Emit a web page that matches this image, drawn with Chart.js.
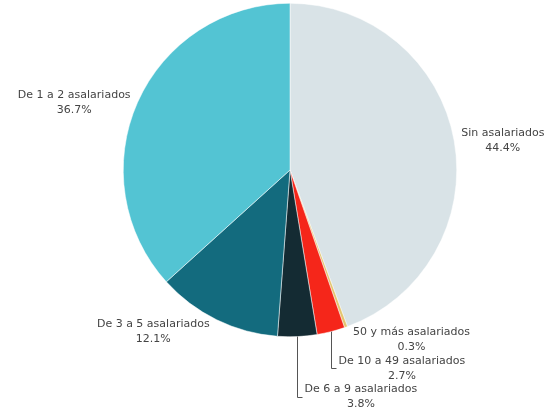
<!DOCTYPE html>
<html>
<head>
<meta charset="utf-8">
<script src="https://cdn.jsdelivr.net/npm/chart.js@4"></script>
<style>
  html, body { margin: 0; padding: 0; background: #fff; }
  #wrap { width: 552px; height: 418px; }
</style>
</head>
<body>
<div id="wrap"><canvas id="pieChart" width="552" height="418"></canvas></div>
<script>
// ==========================
// データ
// ==========================
const categories = [
  "Sin asalariados",
  "50 y más asalariados",
  "De 10 a 49 asalariados",
  "De 6 a 9 asalariados",
  "De 3 a 5 asalariados",
  "De 1 a 2 asalariados"
];
const shares = [44.4, 0.3, 2.7, 3.8, 12.1, 36.7];
const shareLabels = ["44.4%", "0.3%", "2.7%", "3.8%", "12.1%", "36.7%"];
const sliceColors = ["#d9e3e7", "#e3c56f", "#f5261a", "#142b33", "#136b7e", "#53c4d3"];
// ラベルの置き方（leader = 引き出し線つき）
const labelModes = ["side", "side", "leader", "leader", "side", "side"];

// ==========================
// 外側ラベル
// ==========================
const outsideLabels = {
  id: "outsideLabels",
  afterDraw(chart) {
    const ctx = chart.ctx;
    const arcs = chart.getDatasetMeta(0).data;
    const lineH = 15;
    ctx.save();
    ctx.font = "11px 'DejaVu Sans', Verdana, sans-serif";
    ctx.fillStyle = "#444";
    ctx.strokeStyle = "#555";
    ctx.lineWidth = 1;
    ctx.textBaseline = "middle";
    ctx.textAlign = "center";
    let prevCy = null;
    arcs.forEach((arc, i) => {
      const { x, y, startAngle, endAngle, outerRadius } = arc.getProps(["x", "y", "startAngle", "endAngle", "outerRadius"], true);
      const mid = (startAngle + endAngle) / 2;
      const ax = x + Math.cos(mid) * outerRadius;
      const ay = y + Math.sin(mid) * outerRadius;
      const lines = [categories[i], shareLabels[i]];
      const w = Math.max(...lines.map(t => ctx.measureText(t).width));
      let cx, cy;
      if (labelModes[i] === "leader") {
        cy = prevCy + 28.5;
        const ex = Math.round(ax) + 0.5;
        ctx.beginPath();
        ctx.moveTo(ex, ay);
        ctx.lineTo(ex, Math.round(cy) + 0.5);
        ctx.lineTo(ex + 5, Math.round(cy) + 0.5);
        ctx.stroke();
        cx = ex + 7 + w / 2;
      } else {
        const side = Math.cos(mid) >= 0 ? 1 : -1;
        cx = ax + side * (w / 2 + 7);
        cy = ay + Math.max(0, Math.sin(mid)) * 13.5;
      }
      prevCy = cy;
      ctx.fillText(lines[0], cx, cy - lineH / 2);
      ctx.fillText(lines[1], cx, cy + lineH / 2);
    });
    ctx.restore();
  }
};

// ==========================
// グラフ表示
// ==========================
document.addEventListener("DOMContentLoaded", () => {
  const ctx = document.getElementById("pieChart").getContext("2d");
  new Chart(ctx, {
    type: "pie",
    data: {
      labels: categories,
      datasets: [{
        data: shares,
        backgroundColor: sliceColors,
        borderColor: "#ffffff",
        borderWidth: 0.5
      }]
    },
    options: {
      responsive: false,
      animation: false,
      layout: { padding: { top: 3, bottom: 81, left: 123, right: 95 } },
      plugins: {
        legend: { display: false },
        tooltip: { enabled: false }
      }
    },
    plugins: [outsideLabels]
  });
});
</script>
</body>
</html>
